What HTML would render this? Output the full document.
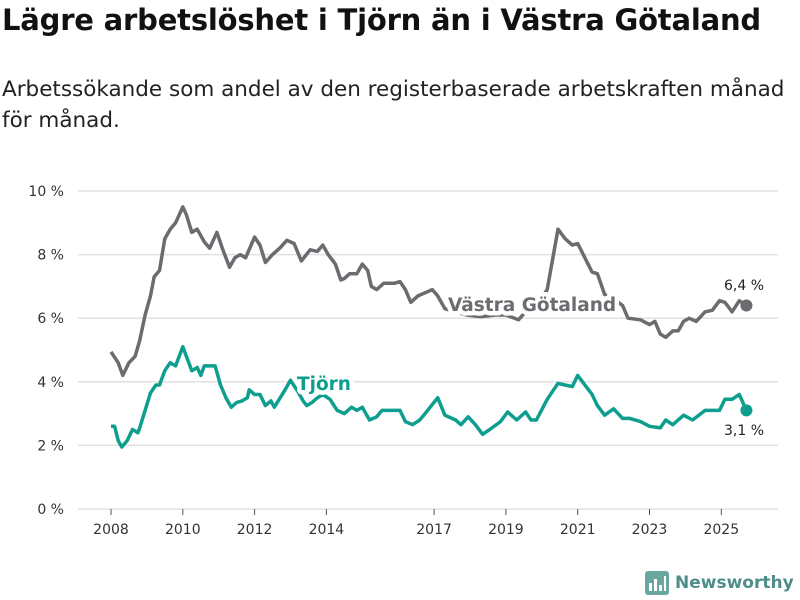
<!DOCTYPE html>
<html><head><meta charset="utf-8"><style>
body{margin:0;background:#fff;font-family:"DejaVu Sans","Liberation Sans",sans-serif;}
#wrap{position:relative;width:800px;height:600px;overflow:hidden}
h1{position:absolute;left:2px;top:3px;margin:0;font-size:29px;font-weight:bold;color:#111;letter-spacing:-0.2px;white-space:nowrap}
p.sub{position:absolute;left:2px;top:74px;margin:0;font-size:21.5px;line-height:31px;color:#222;width:792px}
</style></head><body>
<div id="wrap">
<h1>Lägre arbetslöshet i Tjörn än i Västra Götaland</h1>
<p class="sub">Arbetssökande som andel av den registerbaserade arbetskraften månad för månad.</p>
<svg id="chart" width="800" height="600" style="position:absolute;left:0;top:0"></svg>
</div>
<script>
const yTicks=[0,2,4,6,8,10];
const yTickLabels=["0 %","2 %","4 %","6 %","8 %","10 %"];
const xTicks=[2008,2010,2012,2014,2017,2019,2021,2023,2025];
const xTickLabels=["2008","2010","2012","2014","2017","2019","2021","2023","2025"];
const vgT=[2008.0,2008.2,2008.33,2008.5,2008.67,2008.8,2008.95,2009.1,2009.2,2009.35,2009.5,2009.65,2009.8,2010.0,2010.1,2010.25,2010.4,2010.6,2010.75,2010.95,2011.1,2011.3,2011.45,2011.6,2011.75,2012.0,2012.15,2012.3,2012.5,2012.7,2012.9,2013.1,2013.3,2013.55,2013.75,2013.9,2014.05,2014.25,2014.4,2014.5,2014.65,2014.85,2015.0,2015.15,2015.25,2015.4,2015.6,2015.9,2016.05,2016.2,2016.35,2016.55,2016.75,2016.95,2017.1,2017.3,2017.6,2017.9,2018.3,2018.7,2019.0,2019.35,2019.55,2019.85,2020.15,2020.45,2020.65,2020.85,2021.0,2021.2,2021.4,2021.55,2021.75,2022.0,2022.25,2022.4,2022.75,2023.0,2023.15,2023.3,2023.45,2023.65,2023.8,2023.95,2024.1,2024.3,2024.55,2024.75,2024.95,2025.1,2025.3,2025.5,2025.7];
const vgV=[4.94,4.6,4.2,4.6,4.8,5.3,6.1,6.7,7.3,7.5,8.5,8.8,9.0,9.5,9.25,8.7,8.8,8.4,8.2,8.7,8.2,7.6,7.9,8.0,7.9,8.55,8.3,7.75,8.0,8.2,8.45,8.35,7.8,8.15,8.1,8.3,8.0,7.7,7.2,7.25,7.4,7.4,7.7,7.5,7.0,6.9,7.1,7.1,7.15,6.9,6.5,6.7,6.8,6.9,6.7,6.3,6.2,6.1,6.05,6.1,6.1,5.95,6.2,6.4,6.9,8.8,8.5,8.3,8.35,7.9,7.45,7.4,6.75,6.6,6.4,6.0,5.95,5.8,5.9,5.5,5.4,5.6,5.6,5.9,6.0,5.9,6.2,6.25,6.55,6.5,6.2,6.55,6.4];
const tjT=[2008.0,2008.1,2008.2,2008.3,2008.45,2008.6,2008.75,2008.8,2008.95,2009.1,2009.25,2009.35,2009.5,2009.65,2009.8,2010.0,2010.1,2010.25,2010.4,2010.5,2010.6,2010.75,2010.9,2011.05,2011.2,2011.35,2011.5,2011.65,2011.8,2011.85,2012.0,2012.15,2012.3,2012.45,2012.55,2012.85,2013.0,2013.2,2013.35,2013.45,2013.6,2013.75,2013.9,2014.1,2014.3,2014.5,2014.7,2014.85,2015.0,2015.2,2015.4,2015.55,2016.05,2016.2,2016.4,2016.6,2016.75,2017.1,2017.3,2017.6,2017.75,2017.95,2018.15,2018.35,2018.55,2018.85,2019.05,2019.2,2019.3,2019.55,2019.7,2019.85,2020.15,2020.45,2020.65,2020.85,2021.0,2021.2,2021.4,2021.55,2021.75,2022.0,2022.25,2022.45,2022.75,2023.0,2023.3,2023.45,2023.65,2023.95,2024.2,2024.55,2024.95,2025.1,2025.3,2025.5,2025.7];
const tjV=[2.6,2.6,2.15,1.95,2.15,2.5,2.4,2.55,3.1,3.65,3.9,3.9,4.35,4.6,4.5,5.1,4.8,4.35,4.45,4.2,4.5,4.5,4.5,3.9,3.5,3.2,3.35,3.4,3.5,3.75,3.6,3.6,3.25,3.4,3.2,3.75,4.05,3.7,3.4,3.25,3.35,3.5,3.6,3.45,3.1,3.0,3.2,3.1,3.2,2.8,2.9,3.1,3.1,2.75,2.65,2.8,3.0,3.5,2.95,2.8,2.65,2.9,2.65,2.35,2.5,2.75,3.05,2.9,2.8,3.05,2.8,2.8,3.45,3.95,3.9,3.85,4.2,3.9,3.6,3.25,2.95,3.15,2.85,2.85,2.75,2.6,2.55,2.8,2.65,2.95,2.8,3.1,3.1,3.45,3.45,3.6,3.1];
const NS="http://www.w3.org/2000/svg";
const FF='DejaVu Sans, Liberation Sans, sans-serif';
const svg=document.getElementById('chart');
const X=t=>111+(t-2008)*35.9;
const Y=v=>509-v*31.8;
function mk(tag,at){const e=document.createElementNS(NS,tag);for(const k in at)e.setAttribute(k,at[k]);svg.appendChild(e);return e;}
yTicks.forEach((v,i)=>{
 const g=mk('line',{x1:78,x2:778,y1:Y(v),y2:Y(v),stroke:'#e0e0e0','stroke-width':1.5});
 
 
 const t=mk('text',{x:64,y:Y(v)+5,'text-anchor':'end','font-size':14,fill:'#333','font-family':FF});
 t.textContent=yTickLabels[i];
 
 
});
xTicks.forEach((v,i)=>{
 const l=mk('line',{x1:X(v),x2:X(v),y1:509,y2:515,stroke:'#555','stroke-width':1});
 
 
 const t=mk('text',{x:X(v),y:534,'text-anchor':'middle','font-size':14,fill:'#333','font-family':FF});
 t.textContent=xTickLabels[i];
 
 
});
function line(T,V,col,name){
 const d=T.map((t,i)=>(i?'L':'M')+X(t).toFixed(1)+','+Y(V[i]).toFixed(1)).join('');
 const p=mk('path',{d:d,fill:'none',stroke:col,'stroke-width':3.5,'stroke-linejoin':'round'});
 
 
 const n=T.length-1;
 const c=mk('circle',{cx:X(T[n]),cy:Y(V[n]),r:6,fill:col});
 
 
}
line(vgT,vgV,'#6b6b70','vastra-gotaland-line');
line(tjT,tjV,'#0e9e8e','tjorn-line');
function lbl(x,y,txt,col,name,bold,size){
 const t=mk('text',{x:x,y:y,'font-size':size,fill:col,'font-weight':bold?'bold':'normal',stroke:'#fff','stroke-width':bold?9:0,'stroke-linejoin':'round','paint-order':'stroke','font-family':FF});
 t.textContent=txt;
 
 
}
lbl(448,311,'Västra Götaland','#6b6b70','vastra-gotaland-label',true,18.5);
lbl(297,390,'Tjörn','#0e9e8e','tjorn-label',true,18.5);
lbl(724,290,'6,4 %','#222','vg-end-value',false,14);
lbl(724,435,'3,1 %','#222','tjorn-end-value',false,14);
</script>
<div style="position:absolute;left:645px;top:571px;height:24px;display:flex;align-items:center">
<svg width="24" height="24"><rect x="0" y="0" width="24" height="24" rx="3" fill="#6aa7a0"/><rect x="4" y="12" width="3" height="8" fill="#fff"/><rect x="9" y="8" width="3" height="12" fill="#fff"/><rect x="14" y="14" width="3" height="6" fill="#fff"/><rect x="19" y="5" width="2" height="15" fill="#fff"/></svg>
<span style="margin-left:6px;font-size:17px;font-weight:bold;color:#4d8f88">Newsworthy</span>
</div>
</body></html>
